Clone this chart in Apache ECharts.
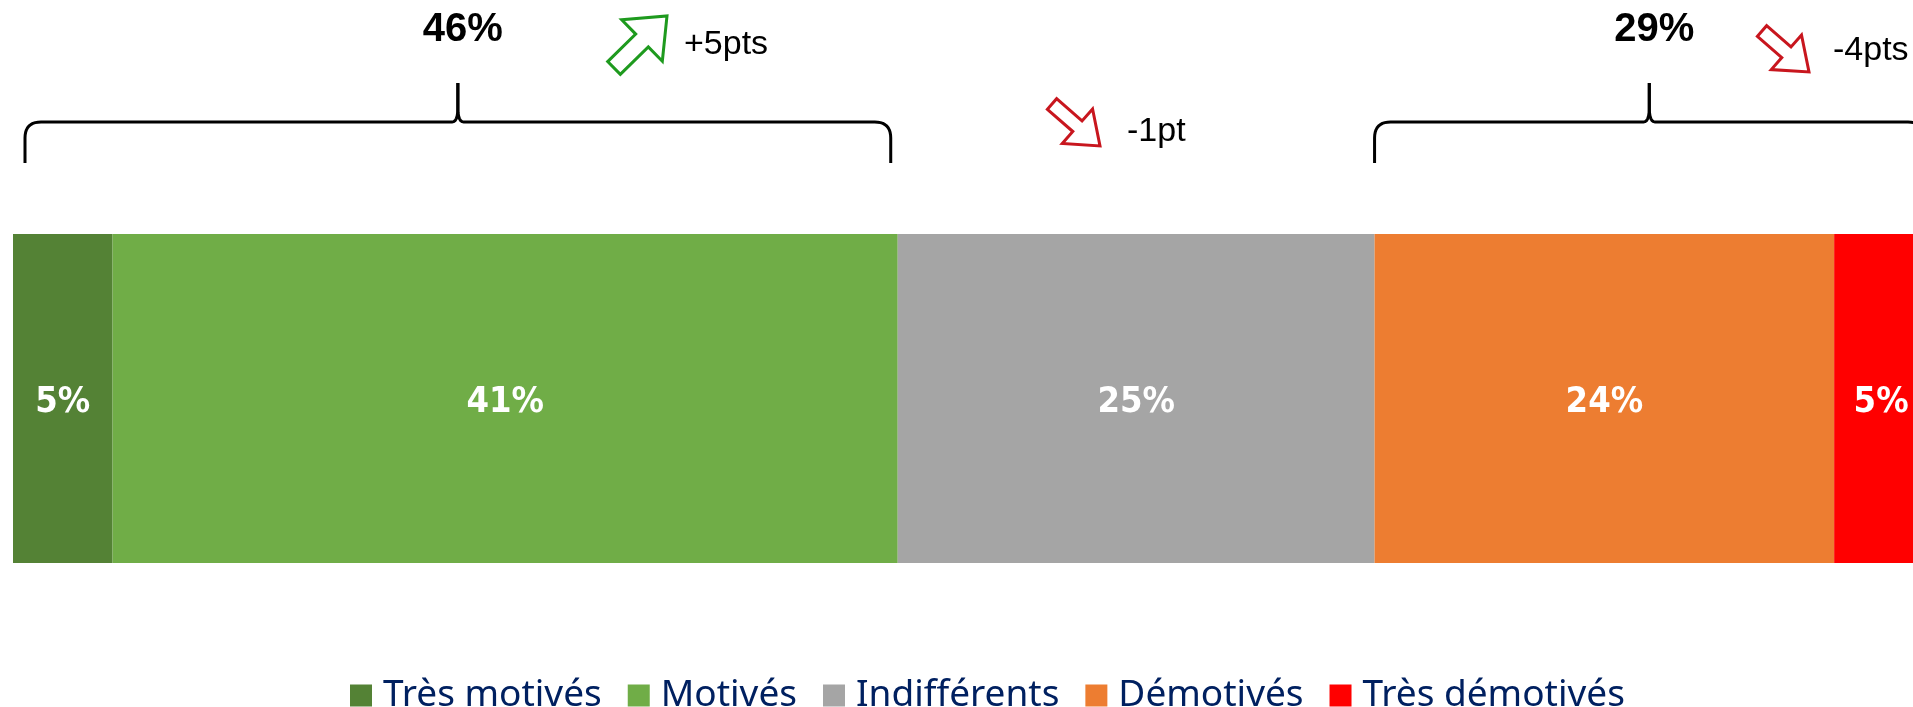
<!DOCTYPE html>
<html>
<head>
<meta charset="utf-8">
<script src="https://cdn.jsdelivr.net/npm/echarts@6/dist/echarts.min.js"></script>
<style>
html,body{margin:0;padding:0;background:#fff;}
#chart{width:1913px;height:707px;}
</style>
</head>
<body>
<div id="chart"></div>
<script>
// ---- data ----
const categories = ['Motivation'];
const seriesNames = ['Très motivés', 'Motivés', 'Indifférents', 'Démotivés', 'Très démotivés'];
const values = [5.2, 41, 24.9, 24, 4.9];
const colors = ['#548235', '#70AD47', '#A5A5A5', '#ED7D31', '#FF0000'];
const groupLabels = ['46%', '29%'];
const groupRanges = [[0, 46.2], [71.1, 100]];
const deltaLabels = ['+5pts', '-1pt', '-4pts'];

const chart = echarts.init(document.getElementById('chart'));

const series = seriesNames.map((name, i) => ({
  name: name,
  type: 'bar',
  stack: 'total',
  barCategoryGap: 0,
  barWidth: '100%',
  clip: false,
  itemStyle: { color: colors[i] },
  label: {
    show: true,
    position: 'inside',
    offset: [0, 4],
    color: '#fff',
    fontWeight: 'bold',
    fontSize: 36,
    fontFamily: '"DejaVu Sans Condensed", "Liberation Sans Narrow", "DejaVu Sans", sans-serif',
    formatter: p => Math.round(p.value) + '%'
  },
  emphasis: { disabled: true },
  data: [values[i]]
}));

chart.setOption({
  animation: false,
  grid: { left: 13, width: 1915, top: 234, bottom: 144, containLabel: false, outerBoundsMode: 'none' },
  xAxis: { type: 'value', min: 0, max: 100, show: false },
  yAxis: { type: 'category', data: categories, show: false },
  legend: {
    data: seriesNames,
    left: 345,
    top: 672,
    itemWidth: 22,
    itemHeight: 22,
    itemGap: 26,
    icon: 'rect',
    textStyle: {
      fontFamily: '"Noto Sans", sans-serif',
      fontSize: 37,
      color: '#002060',
      padding: [0, 0, 0, 6]
    }
  },
  series: series
});

// ---- annotations ----
function px(v) { return chart.convertToPixel({ gridIndex: 0 }, [v, 0])[0]; }

function quad(p0, c, p1, n) {
  const pts = [];
  for (let k = 1; k <= n; k++) {
    const t = k / n, a = (1 - t) * (1 - t), b = 2 * (1 - t) * t, d = t * t;
    pts.push([a * p0[0] + b * c[0] + d * p1[0], a * p0[1] + b * c[1] + d * p1[1]]);
  }
  return pts;
}

function braceHalves(x1, x2) {
  const yB = 163, yH = 122, yT = 83, cx = (x1 + x2) / 2, r = 16;
  let left = [[x1, yB], [x1, yH + r]];
  left = left.concat(quad([x1, yH + r], [x1, yH], [x1 + r, yH], 10));
  left.push([cx - 6, yH]);
  left = left.concat(quad([cx - 6, yH], [cx, yH], [cx, yH - 14], 6));
  left.push([cx, yT]);
  let right = [[x2, yB], [x2, yH + r]];
  right = right.concat(quad([x2, yH + r], [x2, yH], [x2 - r, yH], 10));
  right.push([cx + 6, yH]);
  right = right.concat(quad([cx + 6, yH], [cx, yH], [cx, yH - 14], 6));
  right.push([cx, yT]);
  return [left, right];
}

function arrowPoints(tx, ty, hx, hy, shaftHalf, headHalf, headLen) {
  const dx = hx - tx, dy = hy - ty, L = Math.sqrt(dx * dx + dy * dy);
  const ux = dx / L, uy = dy / L, nx = -uy, ny = ux;
  const bx = hx - ux * headLen, by = hy - uy * headLen;
  return [
    [tx + nx * shaftHalf, ty + ny * shaftHalf],
    [bx + nx * shaftHalf, by + ny * shaftHalf],
    [bx + nx * headHalf, by + ny * headHalf],
    [hx, hy],
    [bx - nx * headHalf, by - ny * headHalf],
    [bx - nx * shaftHalf, by - ny * shaftHalf],
    [tx - nx * shaftHalf, ty - ny * shaftHalf]
  ];
}

const braceInsets = [[12, -7], [0, -4]];
const graphics = [];
groupRanges.forEach((rg, i) => {
  const x1 = px(rg[0]) + braceInsets[i][0];
  const x2 = px(rg[1]) + braceInsets[i][1];
  braceHalves(x1, x2).forEach(pts => {
    graphics.push({
      type: 'polyline',
      shape: { points: pts },
      style: { stroke: '#000', lineWidth: 3, fill: null, lineJoin: 'round' }
    });
  });
  graphics.push({
    type: 'text',
    style: {
      text: groupLabels[i], x: (x1 + x2) / 2 + 5, y: 30,
      align: 'center', verticalAlign: 'middle',
      textAlign: 'center', textVerticalAlign: 'middle',
      fontFamily: '"Liberation Sans", Arial, sans-serif', fontWeight: 'bold', fontSize: 40, fill: '#000'
    }
  });
});

const arrows = [
  { tail: [614, 68], tip: [667, 16], color: '#1E9A1E', sh: 9, hh: 29, hl: 35 },
  { tail: [1052, 104], tip: [1100, 146], color: '#C8161E', sh: 7, hh: 23, hl: 30 },
  { tail: [1762, 31], tip: [1809, 72], color: '#C8161E', sh: 7, hh: 23, hl: 30 }
];
const deltaPos = [[684, 45], [1127, 132], [1833, 51]];
arrows.forEach((a, i) => {
  graphics.push({
    type: 'polygon',
    shape: { points: arrowPoints(a.tail[0], a.tail[1], a.tip[0], a.tip[1], a.sh, a.hh, a.hl) },
    style: { fill: '#fff', stroke: a.color, lineWidth: 3, lineJoin: 'miter' }
  });
  graphics.push({
    type: 'text',
    style: {
      text: deltaLabels[i], x: deltaPos[i][0], y: deltaPos[i][1],
      align: 'left', verticalAlign: 'middle',
      textAlign: 'left', textVerticalAlign: 'middle',
      fontFamily: '"Liberation Sans", Arial, sans-serif', fontSize: 34, fill: '#000'
    }
  });
});

chart.setOption({ graphic: { elements: graphics } });
</script>
</body>
</html>
